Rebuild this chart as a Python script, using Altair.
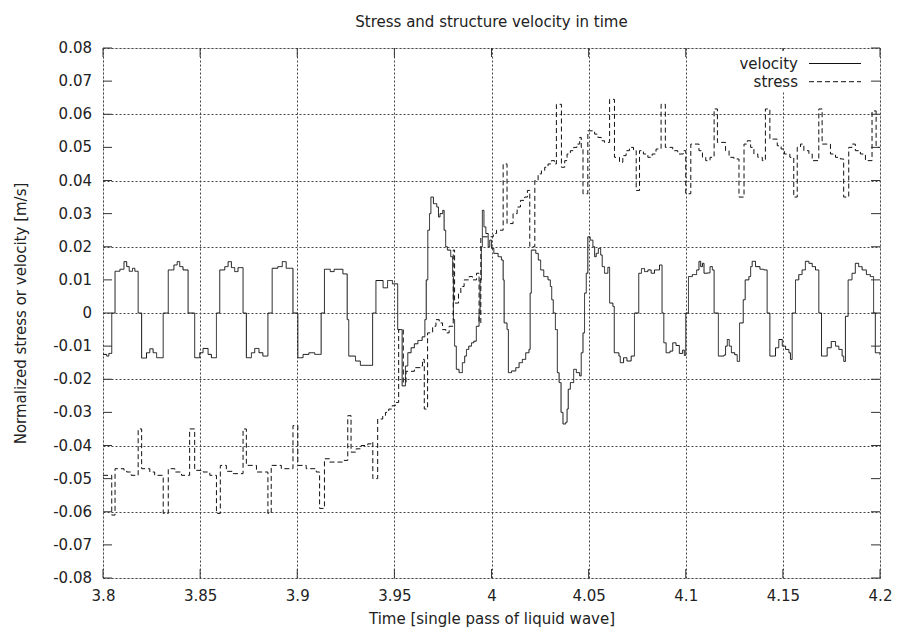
import altair as alt
import pandas as pd

vel_t = [
    3.8000, 3.8019, 3.8030, 3.8045, 3.8062, 3.8087, 3.8108, 3.8122, 3.8135, 3.8152,
    3.8164, 3.8181, 3.8199, 3.8224, 3.8241, 3.8258, 3.8276, 3.8310, 3.8336, 3.8365,
    3.8382, 3.8395, 3.8412, 3.8438, 3.8472, 3.8498, 3.8515, 3.8541, 3.8558, 3.8584,
    3.8601, 3.8627, 3.8644, 3.8661, 3.8678, 3.8695, 3.8721, 3.8738, 3.8764, 3.8781,
    3.8803, 3.8823, 3.8849, 3.8871, 3.8900, 3.8923, 3.8943, 3.8978, 3.9003, 3.9030,
    3.9060, 3.9090, 3.9123, 3.9140, 3.9170, 3.9190, 3.9235, 3.9257, 3.9265, 3.9300,
    3.9325, 3.9388, 3.9405, 3.9442, 3.9465, 3.9490, 3.9517, 3.9540, 3.9557, 3.9569,
    3.9586, 3.9603, 3.9621, 3.9643, 3.9657, 3.9664, 3.9672, 3.9681, 3.9688, 3.9701,
    3.9718, 3.9727, 3.9735, 3.9749, 3.9756, 3.9764, 3.9773, 3.9790, 3.9800, 3.9804,
    3.9810, 3.9819, 3.9833, 3.9850, 3.9862, 3.9871, 3.9883, 3.9897, 3.9909, 3.9922,
    3.9936, 3.9941, 3.9948, 3.9953, 3.9961, 3.9971, 3.9983, 3.9991, 4.0000, 4.0012,
    4.0034, 4.0051, 4.0060, 4.0065, 4.0080, 4.0087, 4.0103, 4.0125, 4.0142, 4.0159,
    4.0176, 4.0193, 4.0199, 4.0205, 4.0228, 4.0241, 4.0253, 4.0269, 4.0291, 4.0303,
    4.0310, 4.0318, 4.0329, 4.0339, 4.0348, 4.0358, 4.0368, 4.0382, 4.0389, 4.0395,
    4.0406, 4.0423, 4.0437, 4.0454, 4.0462, 4.0471, 4.0479, 4.0488, 4.0496, 4.0508,
    4.0522, 4.0531, 4.0539, 4.0550, 4.0562, 4.0570, 4.0582, 4.0599, 4.0608, 4.0625,
    4.0632, 4.0656, 4.0663, 4.0680, 4.0697, 4.0719, 4.0736, 4.0758, 4.0772, 4.0788,
    4.0805, 4.0822, 4.0839, 4.0865, 4.0878, 4.0887, 4.0899, 4.0919, 4.0933, 4.0950,
    4.0967, 4.0984, 4.0993, 4.1000, 4.1014, 4.1034, 4.1056, 4.1068, 4.1077, 4.1086,
    4.1094, 4.1111, 4.1125, 4.1137, 4.1146, 4.1168, 4.1197, 4.1205, 4.1214, 4.1224,
    4.1235, 4.1252, 4.1265, 4.1277, 4.1296, 4.1306, 4.1325, 4.1334, 4.1342, 4.1359,
    4.1382, 4.1402, 4.1419, 4.1433, 4.1462, 4.1479, 4.1497, 4.1514, 4.1531, 4.1539,
    4.1548, 4.1565, 4.1582, 4.1599, 4.1616, 4.1634, 4.1651, 4.1668, 4.1685, 4.1699,
    4.1728, 4.1749, 4.1771, 4.1788, 4.1805, 4.1813, 4.1822, 4.1836, 4.1856, 4.1873,
    4.1890, 4.1908, 4.1930, 4.1950, 4.1967, 4.1976, 4.2000,
]
vel_v = [
    -0.0125, -0.0130, -0.0122, 0.0, 0.0126, 0.0132, 0.0155, 0.0140, 0.0126, 0.0135,
    0.0126, 0.0, -0.0136, -0.0120, -0.0108, -0.0120, -0.0135, 0.0, 0.0130, 0.0145,
    0.0155, 0.0140, 0.0130, 0.0, -0.0135, -0.0120, -0.0107, -0.0125, -0.0135, 0.0,
    0.0130, 0.0140, 0.0155, 0.0137, 0.0125, 0.0137, 0.0, -0.0135, -0.0120, -0.0107,
    -0.0120, -0.0130, 0.0, 0.0135, 0.0140, 0.0155, 0.0135, 0.0, -0.0135, -0.0125,
    -0.0120, -0.0125, 0.0, 0.0132, 0.0125, 0.0132, 0.0118, -0.0020, -0.0130, -0.0145,
    -0.0158, 0.0, 0.0098, 0.0076, 0.0098, 0.0088, -0.0050, -0.0220, -0.0160, -0.0120,
    -0.0105, -0.0093, -0.0083, -0.0072, -0.0020, 0.0100, 0.0250, 0.0300, 0.0350, 0.0330,
    0.0320, 0.0290, 0.0300, 0.0310, 0.0250, 0.0200, 0.0190, 0.0170, 0.0110, -0.0020,
    -0.0100, -0.0170, -0.0180, -0.0150, -0.0130, -0.0110, -0.0100, -0.0090, -0.0085, -0.0040,
    0.0, 0.0100, 0.0200, 0.0310, 0.0260, 0.0240, 0.0200, 0.0220, 0.0195, 0.0180,
    0.0170, 0.0160, 0.0100, -0.0030, -0.0050, -0.0180, -0.0175, -0.0165, -0.0150, -0.0140,
    -0.0120, -0.0110, 0.0060, 0.0190, 0.0180, 0.0160, 0.0130, 0.0110, 0.0100, 0.0080,
    0.0040, 0.0, -0.0050, -0.0180, -0.0210, -0.0300, -0.0335, -0.0330, -0.0290, -0.0230,
    -0.0210, -0.0170, -0.0180, -0.0190, -0.0120, -0.0060, 0.0060, 0.0120, 0.0230, 0.0220,
    0.0200, 0.0170, 0.0180, 0.0195, 0.0175, 0.0140, 0.0120, 0.0138, 0.0030, 0.0020,
    -0.0120, -0.0130, -0.0150, -0.0135, -0.0145, -0.0130, 0.0, 0.0120, 0.0134, 0.0125,
    0.0130, 0.0120, 0.0130, 0.0145, 0.0, -0.0090, -0.0120, -0.0115, -0.0090, -0.0098,
    -0.0122, -0.0112, -0.0128, 0.0, 0.0110, 0.0116, 0.0130, 0.0156, 0.0140, 0.0150,
    0.0120, 0.0121, 0.0140, 0.0130, 0.0, -0.0130, -0.0127, -0.0100, -0.0080, -0.0100,
    -0.0120, -0.0126, -0.0146, -0.0030, 0.0040, 0.0100, 0.0110, 0.0140, 0.0156, 0.0140,
    0.0132, 0.0130, 0.0, -0.0130, -0.0105, -0.0080, -0.0100, -0.0110, -0.0120, -0.0140,
    0.0, 0.0100, 0.0116, 0.0130, 0.0156, 0.0150, 0.0140, 0.0130, 0.0, -0.0130,
    -0.0105, -0.0086, -0.0100, -0.0110, -0.0130, -0.0146, -0.0010, 0.0100, 0.0120, 0.0150,
    0.0140, 0.0130, 0.0116, 0.0110, 0.0, -0.0120, -0.0127,
]

str_t = [
    3.8000, 3.8045, 3.8062, 3.8108, 3.8122, 3.8145, 3.8181, 3.8199, 3.8241, 3.8266,
    3.8310, 3.8336, 3.8370, 3.8404, 3.8446, 3.8472, 3.8515, 3.8550, 3.8584, 3.8604,
    3.8635, 3.8670, 3.8721, 3.8738, 3.8790, 3.8849, 3.8866, 3.8918, 3.8978, 3.9003,
    3.9046, 3.9098, 3.9115, 3.9140, 3.9166, 3.9235, 3.9260, 3.9277, 3.9303, 3.9329,
    3.9363, 3.9380, 3.9389, 3.9414, 3.9440, 3.9454, 3.9471, 3.9488, 3.9505, 3.9522,
    3.9546, 3.9560, 3.9603, 3.9637, 3.9645, 3.9654, 3.9671, 3.9697, 3.9714, 3.9731,
    3.9748, 3.9765, 3.9782, 3.9803, 3.9810, 3.9830, 3.9842, 3.9859, 3.9885, 3.9902,
    3.9923, 3.9936, 3.9945, 4.0009, 4.0026, 4.0060, 4.0080, 4.0111, 4.0132, 4.0149,
    4.0171, 4.0185, 4.0197, 4.0223, 4.0240, 4.0257, 4.0274, 4.0291, 4.0308, 4.0324,
    4.0334, 4.0360, 4.0377, 4.0389, 4.0406, 4.0423, 4.0440, 4.0454, 4.0462, 4.0471,
    4.0496, 4.0531, 4.0548, 4.0565, 4.0582, 4.0608, 4.0633, 4.0659, 4.0676, 4.0693,
    4.0710, 4.0731, 4.0745, 4.0762, 4.0782, 4.0805, 4.0827, 4.0847, 4.0873, 4.0895,
    4.0933, 4.0959, 4.0988, 4.1000, 4.1026, 4.1068, 4.1086, 4.1103, 4.1125, 4.1146,
    4.1163, 4.1205, 4.1223, 4.1248, 4.1274, 4.1300, 4.1317, 4.1334, 4.1351, 4.1371,
    4.1394, 4.1410, 4.1433, 4.1471, 4.1491, 4.1508, 4.1536, 4.1556, 4.1574, 4.1591,
    4.1608, 4.1634, 4.1651, 4.1685, 4.1702, 4.1745, 4.1771, 4.1796, 4.1813, 4.1839,
    4.1856, 4.1873, 4.1899, 4.1925, 4.1959, 4.1980, 4.2000,
]
str_v = [
    -0.0490, -0.0610, -0.0470, -0.0475, -0.0480, -0.0490, -0.0350, -0.0470, -0.0480, -0.0490,
    -0.0605, -0.0470, -0.0480, -0.0490, -0.0350, -0.0475, -0.0480, -0.0490, -0.0605, -0.0460,
    -0.0478, -0.0485, -0.0350, -0.0460, -0.0480, -0.0605, -0.0460, -0.0470, -0.0340, -0.0460,
    -0.0470, -0.0480, -0.0590, -0.0440, -0.0450, -0.0445, -0.0310, -0.0420, -0.0410, -0.0400,
    -0.0395, -0.0390, -0.0500, -0.0320, -0.0310, -0.0300, -0.0290, -0.0280, -0.0270, -0.0050,
    -0.0210, -0.0176, -0.0165, -0.0160, -0.0140, -0.0290, -0.0060, -0.0040, -0.0020, -0.0030,
    -0.0050, -0.0060, -0.0040, 0.0190, 0.0030, 0.0060, 0.0080, 0.0100, 0.0110, 0.0100,
    0.0120, -0.0030, 0.0230, 0.0240, 0.0250, 0.0450, 0.0270, 0.0300, 0.0320, 0.0340,
    0.0350, 0.0370, 0.0200, 0.0400, 0.0420, 0.0430, 0.0440, 0.0450, 0.0460, 0.0450,
    0.0630, 0.0440, 0.0460, 0.0480, 0.0490, 0.0500, 0.0510, 0.0530, 0.0500, 0.0360,
    0.0550, 0.0540, 0.0530, 0.0520, 0.0515, 0.0645, 0.0470, 0.0455, 0.0475, 0.0490,
    0.0500, 0.0490, 0.0370, 0.0490, 0.0480, 0.0470, 0.0480, 0.0495, 0.0630, 0.0500,
    0.0490, 0.0480, 0.0490, 0.0360, 0.0510, 0.0490, 0.0470, 0.0460, 0.0470, 0.0616,
    0.0515, 0.0490, 0.0470, 0.0465, 0.0350, 0.0510, 0.0520, 0.0500, 0.0480, 0.0470,
    0.0460, 0.0616, 0.0525, 0.0505, 0.0495, 0.0480, 0.0470, 0.0350, 0.0500, 0.0510,
    0.0490, 0.0480, 0.0460, 0.0616, 0.0510, 0.0480, 0.0470, 0.0465, 0.0350, 0.0500,
    0.0510, 0.0490, 0.0480, 0.0460, 0.0610, 0.0500, 0.0500,
]

series_names = ["velocity", "stress"]
x_ticks = [3.8, 3.85, 3.9, 3.95, 4.0, 4.05, 4.1, 4.15, 4.2]
y_ticks = [-0.08, -0.07, -0.06, -0.05, -0.04, -0.03, -0.02, -0.01, 0.0,
           0.01, 0.02, 0.03, 0.04, 0.05, 0.06, 0.07, 0.08]
y_labels = ["-0.08", "-0.07", "-0.06", "-0.05", "-0.04", "-0.03", "-0.02", "-0.01", "0",
            "0.01", "0.02", "0.03", "0.04", "0.05", "0.06", "0.07", "0.08"]

df = pd.DataFrame({
    "t": vel_t + str_t,
    "v": vel_v + str_v,
    "series": [series_names[0]] * len(vel_t) + [series_names[1]] * len(str_t),
})

W, H = 777, 530
FONT = "DejaVu Sans"
INK = "#222222"
LABEL_EXPR = "replace(format(datum.value, '~g'), '\u2212', '-')"

xscale = alt.Scale(domain=[3.8, 4.2], nice=False, zero=False)
yscale = alt.Scale(domain=[-0.08, 0.08], nice=False, zero=False)

x_axis = alt.Axis(
    values=x_ticks, labelExpr=LABEL_EXPR, grid=True, gridDash=[2, 2],
    gridColor="#444444", gridOpacity=1, gridWidth=1, ticks=False, domain=False,
    labelFont=FONT, labelFontSize=15, labelColor=INK, labelPadding=10,
    labelFlush=False, labelOverlap=False, titleFont=FONT, titleFontSize=15,
    titleFontWeight="normal", titleColor=INK, titleY=40, titleBaseline="middle",
)
y_axis = alt.Axis(
    values=y_ticks, labels=False, grid=True, gridDash=[2, 2],
    gridColor="#444444", gridOpacity=1, gridWidth=1, ticks=False, domain=False,
    titleFont=FONT, titleFontSize=15,
    titleFontWeight="normal", titleColor=INK, titleX=-83, titleY=H / 2,
    titleBaseline="middle",
)

lines = alt.Chart(df).mark_line(
    interpolate="step-after", strokeWidth=1, color="#111111", clip=True
).encode(
    x=alt.X("t:Q", scale=xscale, axis=x_axis, title="Time [single pass of liquid wave]"),
    y=alt.Y("v:Q", scale=yscale, axis=y_axis, title="Normalized stress or velocity [m/s]"),
    strokeDash=alt.StrokeDash(
        "series:N",
        scale=alt.Scale(domain=series_names, range=[[1, 0], [5, 3]]),
        legend=None,
    ),
    detail="series:N",
)

# y tick labels (drawn as text so that every label shows)
ylab_df = pd.DataFrame({"v": y_ticks, "label": y_labels})
y_labels_layer = alt.Chart(ylab_df).mark_text(
    align="right", baseline="middle", font=FONT, fontSize=15, color=INK
).encode(y=alt.Y("v:Q", scale=yscale), x=alt.value(-11), text="label:N")

# mirrored inward tick marks (gnuplot style)
ytick_df = pd.DataFrame({"v": y_ticks})
xtick_df = pd.DataFrame({"t": x_ticks})
tick_style = dict(color="#333333", strokeWidth=1)
yt_left = alt.Chart(ytick_df).mark_rule(**tick_style).encode(
    y=alt.Y("v:Q", scale=yscale), x=alt.value(0), x2=alt.value(9))
yt_right = alt.Chart(ytick_df).mark_rule(**tick_style).encode(
    y=alt.Y("v:Q", scale=yscale), x=alt.value(W - 9), x2=alt.value(W))
xt_bottom = alt.Chart(xtick_df).mark_rule(**tick_style).encode(
    x=alt.X("t:Q", scale=xscale), y=alt.value(H - 9), y2=alt.value(H))
xt_top = alt.Chart(xtick_df).mark_rule(**tick_style).encode(
    x=alt.X("t:Q", scale=xscale), y=alt.value(0), y2=alt.value(9))

# key (opaque box, text, samples)
key_df = pd.DataFrame({"series": series_names})
key_box = alt.Chart(key_df.head(1)).mark_rect(color="white").encode(
    x=alt.value(611), x2=alt.value(766), y=alt.value(3), y2=alt.value(43))
key_text_v = alt.Chart(key_df.head(1)).mark_text(
    align="right", baseline="middle", font=FONT, fontSize=15, color=INK
).encode(text="series:N", x=alt.value(695), y=alt.value(15.5))
key_text_s = alt.Chart(key_df.tail(1)).mark_text(
    align="right", baseline="middle", font=FONT, fontSize=15, color=INK
).encode(text="series:N", x=alt.value(695), y=alt.value(33.7))
key_line_v = alt.Chart(key_df.head(1)).mark_rule(color="#111111", strokeWidth=1).encode(
    x=alt.value(706), x2=alt.value(758), y=alt.value(15.5))
key_line_s = alt.Chart(key_df.tail(1)).mark_rule(
    color="#111111", strokeWidth=1, strokeDash=[5, 3]
).encode(x=alt.value(706), x2=alt.value(758), y=alt.value(33.7))

chart = alt.layer(
    lines, y_labels_layer, yt_left, yt_right, xt_bottom, xt_top,
    key_box, key_text_v, key_text_s, key_line_v, key_line_s,
).properties(
    width=W, height=H,
    title=alt.TitleParams(
        "Stress and structure velocity in time", font=FONT, fontSize=15,
        fontWeight="normal", color=INK, offset=11, anchor="middle",
    ),
    autosize=alt.AutoSizeParams(type="none"),
    padding={"left": 95, "top": 40, "right": 12, "bottom": 50},
).configure_view(
    stroke="#333333", strokeWidth=1
).configure(background="white")

chart.save("out.html", embed_options={"renderer": "svg", "actions": False})
